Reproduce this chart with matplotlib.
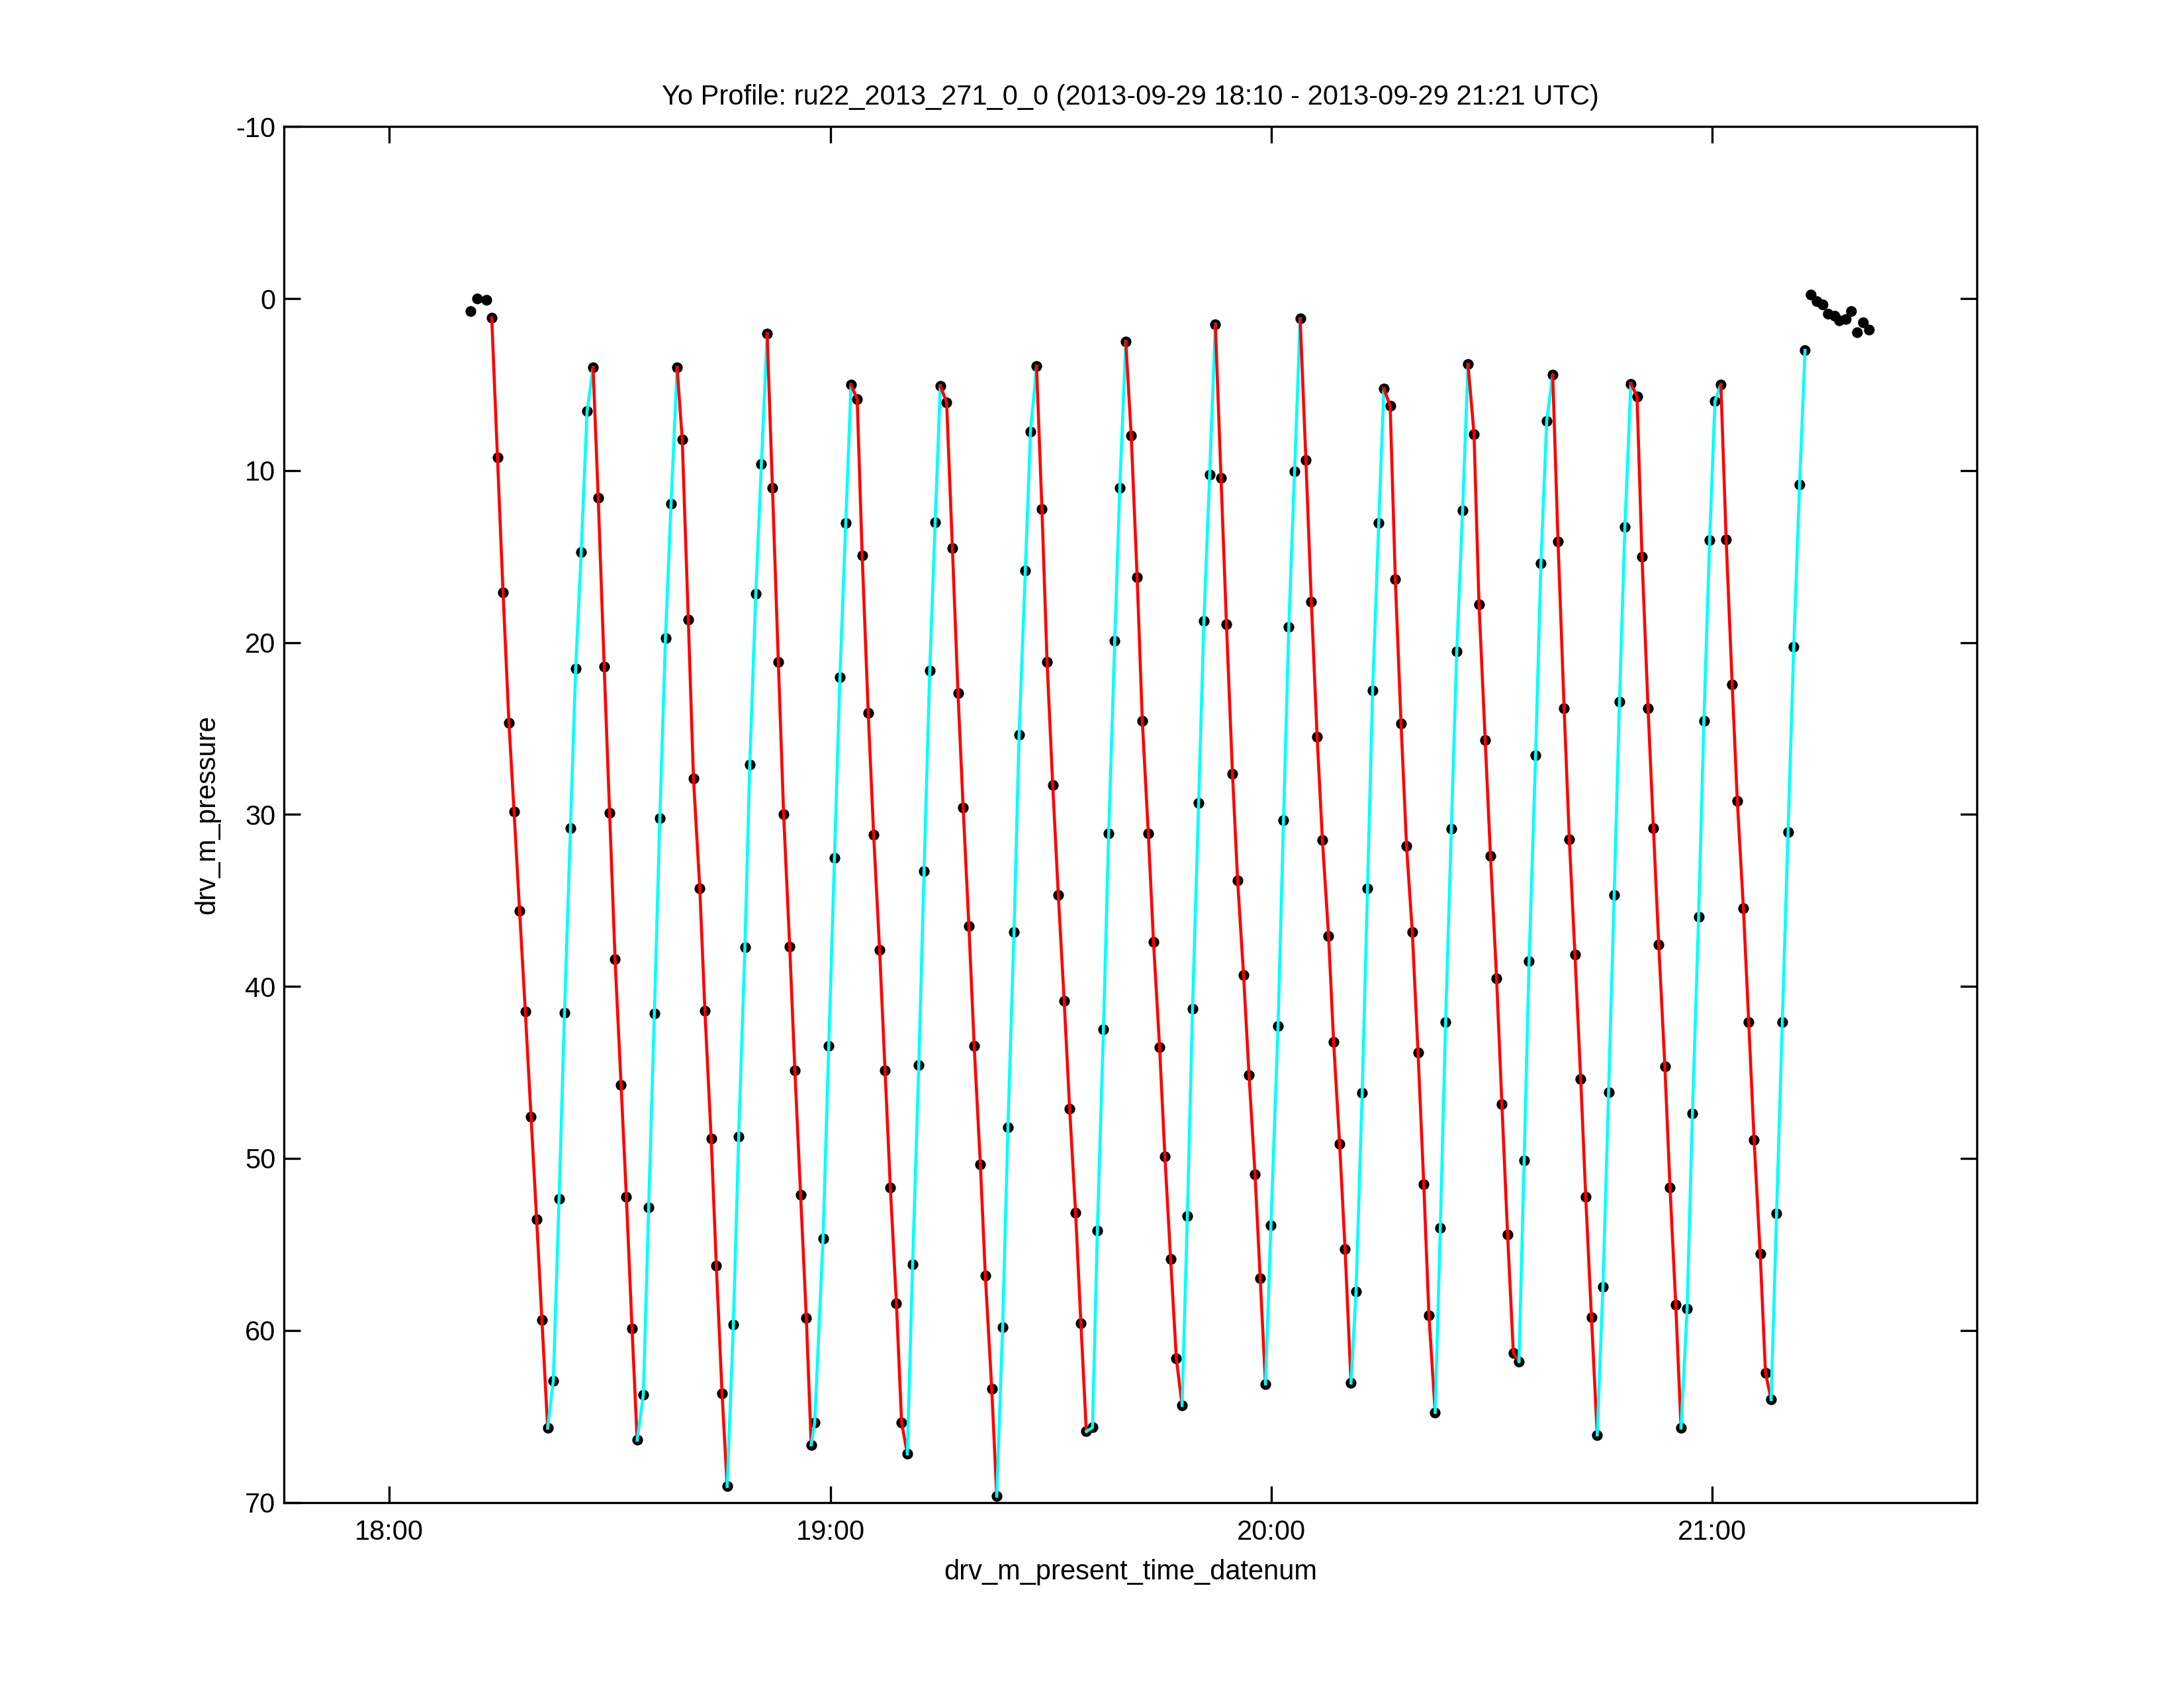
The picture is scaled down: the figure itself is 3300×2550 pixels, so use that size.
import numpy as np
import matplotlib
matplotlib.use("Agg")
import matplotlib.pyplot as plt
import matplotlib.dates as mdates
from datetime import datetime, timedelta

plt.rcParams['font.family'] = ['Liberation Sans', 'DejaVu Sans']
plt.rcParams['axes.unicode_minus'] = False

start_time = datetime(2013, 9, 29, 18, 0)

### Data (time = minutes after 18:00 UTC, pressure in dbar)
# points at the surface before the first dive
pre_minutes = [11.05, 11.92, 13.23]
pre_pressure = [0.73, -0.02, 0.07]

# the yo itself, down and up casts back to back
yo_minutes = [
    13.93, 14.71, 15.47, 16.27, 16.97, 17.72, 18.50, 19.28, 20.04, 20.76, 21.54,
    22.31, 23.09, 23.83, 24.64, 25.35, 26.10, 26.90, 27.72,
    28.42, 29.23, 29.97, 30.71, 31.53, 32.25, 33.02, 33.72,
    34.56, 35.28, 36.06, 36.80, 37.57, 38.33, 39.16,
    39.85, 40.68, 41.38, 42.24, 42.94, 43.79, 44.49, 45.27, 45.97,
    46.81, 47.53, 48.38, 49.04, 49.86, 50.62, 51.41,
    52.13, 52.93, 53.65, 54.48, 55.18, 55.96, 56.74, 57.40,
    57.88, 59.01, 59.79, 60.57, 61.31, 62.10, 62.82,
    63.66, 64.34, 65.16, 65.90, 66.71, 67.45, 68.17, 69.00, 69.70, 70.48,
    71.20, 72.04, 72.76, 73.53, 74.27, 74.97,
    75.83, 76.62, 77.38, 78.08, 78.86, 79.58, 80.42, 81.10, 81.97, 82.65,
    83.45, 84.17, 85.00, 85.69, 86.54, 87.24, 88.07,
    88.80, 89.50, 90.27, 91.03, 91.83, 92.57, 93.38, 94.10, 94.84,
    95.68, 96.34, 97.17, 97.88, 98.71, 99.39, 100.21,
    100.95, 101.76, 102.46, 103.28, 103.98, 104.81, 105.53, 106.31, 107.09, 107.87,
    108.59, 109.29, 110.12, 110.84, 111.62, 112.40,
    113.17, 113.91, 114.73, 115.43, 116.24, 116.98, 117.80, 118.50, 119.22,
    119.96, 120.93, 121.67, 122.39, 123.18, 123.94,
    124.72, 125.46, 126.25, 126.97, 127.81, 128.49, 129.31, 130.05, 130.86,
    131.54, 132.38, 133.10, 133.80, 134.63, 135.33,
    136.19, 136.89, 137.67, 138.42, 139.20, 139.98, 140.76, 141.46, 142.31,
    143.01, 143.73, 144.51, 145.25, 146.04, 146.78,
    147.60, 148.28, 149.12, 149.84, 150.67, 151.39, 152.17, 152.95, 153.72,
    154.42, 155.09, 155.98, 156.70, 157.49, 158.31,
    159.03, 159.86, 160.57, 161.33, 162.12, 162.80, 163.58, 164.36,
    165.14, 165.91, 166.67, 167.39, 168.13, 168.94,
    169.78, 170.46, 171.28, 172.01, 172.74, 173.57, 174.27, 175.05, 175.77,
    176.60, 177.32, 178.16, 178.88, 179.66, 180.39, 181.19,
    181.91, 182.73, 183.43, 184.26, 184.98, 185.71, 186.54, 187.26, 188.03,
    188.77, 189.55, 190.33, 191.11, 191.90, 192.64,
]
yo_pressure = [
    1.12, 9.23, 17.10, 24.66, 29.84, 35.60, 41.46, 47.59, 53.53, 59.41, 65.68,
    62.92, 52.35, 41.55, 30.78, 21.51, 14.76, 6.56, 4.01,
    11.58, 21.39, 29.91, 38.41, 45.72, 52.23, 59.89, 66.38,
    63.74, 52.85, 41.58, 30.22, 19.73, 11.93, 4.01,
    8.19, 18.68, 27.89, 34.28, 41.43, 48.84, 56.22, 63.68, 69.07,
    59.65, 48.73, 37.74, 27.10, 17.18, 9.64, 2.04,
    11.00, 21.14, 29.99, 37.70, 44.88, 52.12, 59.27, 66.66,
    65.36, 54.66, 43.45, 32.52, 22.01, 13.06, 5.01,
    5.85, 14.94, 24.08, 31.18, 37.87, 44.88, 51.69, 58.42, 65.35, 67.18,
    56.18, 44.58, 33.28, 21.62, 13.02, 5.08,
    6.03, 14.53, 22.95, 29.61, 36.48, 43.45, 50.34, 56.83, 63.41, 69.64,
    59.80, 48.20, 36.83, 25.38, 15.82, 7.75, 3.93,
    12.24, 21.13, 28.31, 34.69, 40.85, 47.10, 53.15, 59.57, 65.88,
    65.65, 54.20, 42.49, 31.12, 19.89, 11.00, 2.50,
    7.96, 16.22, 24.57, 31.12, 37.40, 43.52, 49.87, 55.84, 61.62, 64.36,
    53.34, 41.32, 29.33, 18.76, 10.23, 1.50,
    10.42, 18.93, 27.62, 33.85, 39.35, 45.15, 50.93, 56.96, 63.11,
    53.90, 42.29, 30.35, 19.11, 10.03, 1.16,
    9.38, 17.62, 25.49, 31.50, 37.07, 43.21, 49.15, 55.27, 63.06,
    57.75, 46.19, 34.31, 22.79, 13.06, 5.24,
    6.24, 16.33, 24.73, 31.85, 36.84, 43.83, 51.51, 59.11, 64.77,
    54.06, 42.07, 30.82, 20.50, 12.32, 3.82,
    7.88, 17.80, 25.68, 32.41, 39.53, 46.83, 54.44, 61.32, 61.81,
    50.11, 38.54, 26.57, 15.40, 7.11, 4.44,
    14.12, 23.82, 31.46, 38.13, 45.39, 52.23, 59.24, 66.08,
    57.46, 46.14, 34.69, 23.45, 13.28, 4.95,
    5.68, 15.02, 23.82, 30.78, 37.58, 44.65, 51.69, 58.51, 65.68,
    58.73, 47.38, 35.96, 24.55, 14.05, 5.95, 5.01,
    14.00, 22.44, 29.23, 35.47, 42.07, 48.92, 55.54, 62.46, 64.03,
    53.18, 42.07, 31.01, 20.23, 10.81, 3.01,
]

# points at the surface after the last climb
post_minutes = [193.46, 194.20, 195.01, 195.79, 196.62, 197.25,
                198.18, 198.95, 199.73, 200.57, 201.37]
post_pressure = [-0.25, 0.15, 0.34, 0.88, 1.00, 1.27,
                 1.19, 0.73, 1.97, 1.38, 1.81]


def to_dates(mins):
    return mdates.date2num([start_time + timedelta(minutes=m) for m in mins])


yo_t = to_dates(yo_minutes)
yo_p = np.array(yo_pressure)
all_t = np.concatenate([to_dates(pre_minutes), yo_t, to_dates(post_minutes)])
all_p = np.concatenate([pre_pressure, yo_p, post_pressure])

### Figure
fig = plt.figure(figsize=(11, 8.5), dpi=300)
ax = fig.add_axes([0.13, 0.11, 0.775, 0.815])

# black dots for every sample
ax.plot(all_t, all_p, linestyle='none', marker='o', ms=3.9,
        mfc='black', mec='black', mew=0, zorder=2)

# split the yo into casts where the pressure changes direction
going_down = np.diff(yo_p) > 0
turns = np.flatnonzero(going_down[1:] != going_down[:-1]) + 1
edges = [0] + list(turns) + [len(yo_p) - 1]
for a, b in zip(edges[:-1], edges[1:]):
    color = 'red' if going_down[a] else 'cyan'
    ax.plot(yo_t[a:b + 1], yo_p[a:b + 1], color=color, lw=1.1, zorder=3)

ax.set_xlim(start_time - timedelta(minutes=14.35),
            start_time + timedelta(minutes=215.98))
ax.set_ylim(70, -10)
ax.set_yticks(range(-10, 71, 10))
ax.xaxis.set_major_locator(mdates.HourLocator())
ax.xaxis.set_major_formatter(mdates.DateFormatter('%H:%M'))

for s in ax.spines.values():
    s.set_linewidth(0.8)
ax.tick_params(direction='in', top=True, right=True, length=6, width=0.8,
               labelsize=10, colors='black')
ax.tick_params(axis='x', pad=6)
ax.tick_params(axis='y', pad=3)

ax.set_title('Yo Profile: ru22_2013_271_0_0 (2013-09-29 18:10 - 2013-09-29 21:21 UTC)',
             fontsize=10, pad=8)
ax.set_xlabel('drv_m_present_time_datenum', fontsize=10, labelpad=5)
ax.set_ylabel('drv_m_pressure', fontsize=10, labelpad=5.5)

fig.savefig('out.png', dpi=300, facecolor='white')
